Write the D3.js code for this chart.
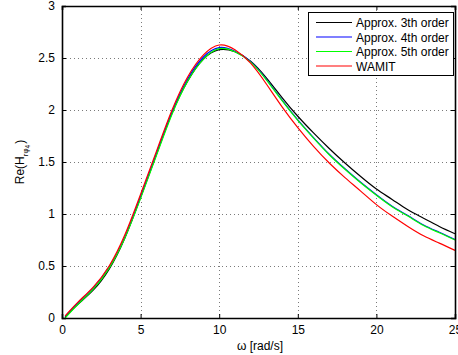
<!DOCTYPE html>
<html>
<head>
<meta charset="utf-8">
<script src="https://cdn.jsdelivr.net/npm/d3@7"></script>
<style>
  html, body { margin: 0; padding: 0; background: #fff; }
  svg { display: block; font-family: "Liberation Sans", Arial, Helvetica, sans-serif; }
</style>
</head>
<body>
<svg id="chart" width="458" height="355"></svg>
<script>
// ---- data ----
const omega = [0.2, 1, 2, 3, 4, 5, 6, 7, 8, 9, 10, 11, 12, 13, 14, 15, 16, 17, 18, 19, 20, 21, 22, 23, 24, 25];
const approx3 = [0.01, 0.13, 0.27, 0.47, 0.77, 1.16, 1.57, 1.97, 2.28, 2.49, 2.58, 2.56, 2.47, 2.31, 2.12, 1.94, 1.78, 1.63, 1.49, 1.36, 1.24, 1.14, 1.04, 0.96, 0.88, 0.81];
const approx4 = [0.015, 0.14, 0.29, 0.49, 0.78, 1.17, 1.58, 1.98, 2.30, 2.51, 2.60, 2.565, 2.465, 2.295, 2.095, 1.905, 1.735, 1.575, 1.435, 1.305, 1.185, 1.075, 0.985, 0.895, 0.825, 0.755];
const approx5 = [0.0, 0.13, 0.28, 0.48, 0.77, 1.15, 1.56, 1.96, 2.28, 2.49, 2.59, 2.56, 2.46, 2.29, 2.09, 1.90, 1.73, 1.57, 1.43, 1.30, 1.18, 1.07, 0.98, 0.89, 0.82, 0.75];
const wamit = [0.02, 0.15, 0.30, 0.50, 0.80, 1.19, 1.60, 2.00, 2.32, 2.53, 2.625, 2.58, 2.45, 2.25, 2.03, 1.83, 1.65, 1.49, 1.35, 1.22, 1.09, 0.98, 0.88, 0.79, 0.72, 0.65];
const seriesNames = ["Approx. 3th order", "Approx. 4th order", "Approx. 5th order", "WAMIT"];
const seriesColors = ["#000000", "#0000ff", "#00ff00", "#ff0000"];
const xTicks = [0, 5, 10, 15, 20, 25];
const yTicks = [0, 0.5, 1, 1.5, 2, 2.5, 3];
const xLabel = "ω [rad/s]";

// ---- layout ----
const svg = d3.select("#chart");
const L = 62, R = 455, T = 6, B = 318;
const x = d3.scaleLinear().domain([0, 25]).range([L, R]);
const y = d3.scaleLinear().domain([0, 3]).range([B, T]);

// grid
const grid = svg.append("g").attr("stroke", "#7a7a7a").attr("stroke-width", 1).attr("stroke-dasharray", "1,3");
grid.selectAll("line.gx").data(xTicks.filter(d => d > 0 && d < 25)).join("line")
  .attr("x1", d => Math.round(x(d)) + 0.5).attr("x2", d => Math.round(x(d)) + 0.5)
  .attr("y1", T).attr("y2", B);
grid.selectAll("line.gy").data(yTicks.filter(d => d > 0 && d < 3)).join("line")
  .attr("y1", d => Math.round(y(d)) + 0.5).attr("y2", d => Math.round(y(d)) + 0.5)
  .attr("x1", L).attr("x2", R);

// lines
const allSeries = [approx3, approx4, approx5, wamit];
const line = d3.line().x(d => x(d[0])).y(d => y(d[1])).curve(d3.curveNatural);
allSeries.forEach((vals, i) => {
  svg.append("path")
    .datum(omega.map((w, j) => [w, vals[j]]))
    .attr("fill", "none")
    .attr("stroke", seriesColors[i])
    .attr("stroke-width", 1.2)
    .attr("d", line);
});

// axes (box with inward ticks)
const tickLen = 4;
const axB = svg.append("g").attr("transform", `translate(0,${B})`)
  .call(d3.axisBottom(x).tickValues(xTicks).tickSize(-tickLen).tickPadding(7).tickFormat(d3.format("d")));
const axT = svg.append("g").attr("transform", `translate(0,${T})`)
  .call(d3.axisTop(x).tickValues(xTicks).tickSize(-tickLen).tickFormat(""));
const axL = svg.append("g").attr("transform", `translate(${L},0)`)
  .call(d3.axisLeft(y).tickValues(yTicks).tickSize(-tickLen).tickPadding(7).tickFormat(d => d3.format("")(d)));
const axR = svg.append("g").attr("transform", `translate(${R},0)`)
  .call(d3.axisRight(y).tickValues(yTicks).tickSize(-tickLen).tickFormat(""));
[axB, axT, axL, axR].forEach(a => {
  a.select(".domain").attr("stroke", "#000").attr("stroke-width", 1.6);
  a.selectAll(".tick line").attr("stroke", "#000").attr("stroke-width", 1);
  a.selectAll(".tick text").attr("fill", "#000").attr("font-size", 12)
    .attr("font-family", "'Liberation Sans', Arial, sans-serif");
});

// x label
svg.append("text")
  .attr("x", 260).attr("y", 350)
  .attr("text-anchor", "middle")
  .attr("font-size", 12)
  .text(xLabel);

// y label: Re(H_{rφ_4})
const yl = svg.append("text")
  .attr("transform", `translate(24,${(T + B) / 2}) rotate(-90)`)
  .attr("text-anchor", "middle")
  .attr("font-size", 12);
yl.append("tspan").text("Re(H");
yl.append("tspan").attr("font-size", 8).attr("dy", 3.5).text("rφ");
yl.append("tspan").attr("font-size", 6.5).attr("dy", 2.5).text("4");
yl.append("tspan").attr("dy", -6).attr("dx", 1).text(")");

// legend
const lg = svg.append("g");
lg.append("rect").attr("x", 308.5).attr("y", 12.5).attr("width", 145).attr("height", 63)
  .attr("fill", "#fff").attr("stroke", "#000").attr("stroke-width", 1);
const legY = [22.5, 37, 51.5, 66];
seriesNames.forEach((name, i) => {
  lg.append("line").attr("x1", 316).attr("x2", 352).attr("y1", legY[i]).attr("y2", legY[i])
    .attr("stroke", seriesColors[i]).attr("stroke-width", 1.2);
  lg.append("text").attr("x", 356).attr("y", legY[i] + 4.5)
    .attr("font-size", 12).text(name);
});
</script>
</body>
</html>
